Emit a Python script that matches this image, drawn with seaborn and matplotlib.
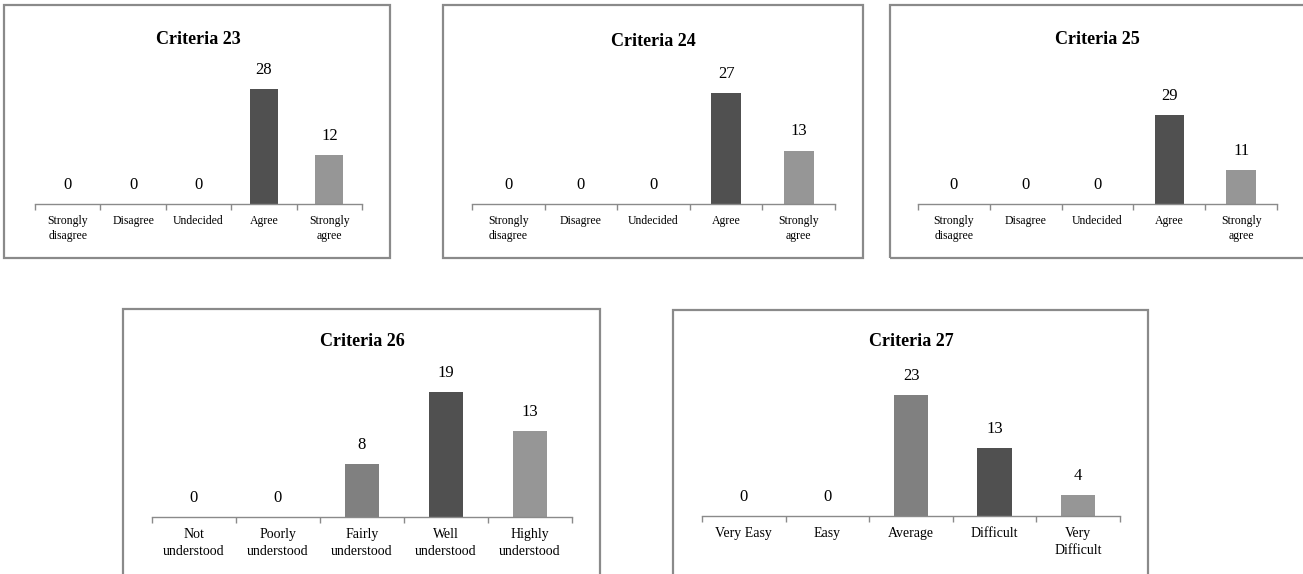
import matplotlib
matplotlib.use("Agg")
import matplotlib.pyplot as plt
import seaborn as sns
import pandas as pd
from matplotlib.patches import Rectangle
from matplotlib.ticker import FixedLocator

sns.set_theme(style="white")
plt.rcParams['font.family'] = ['Liberation Serif', 'DejaVu Serif']
plt.rcParams['text.color'] = 'black'
plt.rcParams['xtick.color'] = 'black'

# ---------------- data ----------------
agree_cats = ["Strongly\ndisagree", "Disagree", "Undecided", "Agree", "Strongly\nagree"]
c23_values = [0, 0, 0, 28, 12]
c24_values = [0, 0, 0, 27, 13]
c25_values = [0, 0, 0, 29, 11]
c26_cats = ["Not\nunderstood", "Poorly\nunderstood", "Fairly\nunderstood", "Well\nunderstood", "Highly\nunderstood"]
c26_values = [0, 0, 8, 19, 13]
c27_cats = ["Very Easy", "Easy", "Average", "Difficult", "Very\nDifficult"]
c27_values = [0, 0, 23, 13, 4]
titles = ["Criteria 23", "Criteria 24", "Criteria 25", "Criteria 26", "Criteria 27"]

# ---------------- layout ----------------
W, H = 1303, 574
fig = plt.figure(figsize=(W / 100, H / 100), dpi=100)

DARK, MED, LIGHT = "#505050", "#808080", "#969696"
agree_colors = [LIGHT, LIGHT, LIGHT, DARK, LIGHT]
c26_colors = [MED, MED, MED, DARK, LIGHT]
c27_colors = [MED, MED, MED, DARK, LIGHT]

panels = [
    dict(cats=agree_cats, vals=c23_values, cols=agree_colors, title=titles[0],
         box=(4, 5, 390, 258), ax=(35, 362, 60, 204), ymax=35.06, ty=39, tfs=8.5, ls=1.35, w=0.43),
    dict(cats=agree_cats, vals=c24_values, cols=agree_colors, title=titles[1],
         box=(443, 5, 863, 258), ax=(472, 835, 60, 204), ymax=35.04, ty=42, tfs=8.5, ls=1.35, w=0.41),
    dict(cats=agree_cats, vals=c25_values, cols=agree_colors, title=titles[2],
         box=(890, 5, 1320, 258), ax=(918, 1277, 60, 204), ymax=46.9, ty=39, tfs=8.5, ls=1.35, w=0.41),
    dict(cats=c26_cats, vals=c26_values, cols=c26_colors, title=titles[3],
         box=(123, 309, 600, 600), ax=(152, 572, 360, 517), ymax=23.86, ty=342, tfs=10, ls=1.35, w=0.41),
    dict(cats=c27_cats, vals=c27_values, cols=c27_colors, title=titles[4],
         box=(673, 310, 1148, 600), ax=(702, 1120, 360, 516), ymax=29.66, ty=342, tfs=10, ls=1.35, w=0.41),
]

for p in panels:
    bx0, by0, bx1, by1 = p["box"]
    fig.patches.append(Rectangle((bx0 / W, 1 - by1 / H), (bx1 - bx0) / W, (by1 - by0) / H,
                                 transform=fig.transFigure, fill=False,
                                 edgecolor="#8a8a8a", linewidth=1.6, zorder=0))
    ax0, ax1, top, base = p["ax"]
    ax = fig.add_axes([ax0 / W, 1 - base / H, (ax1 - ax0) / W, (base - top) / H])
    df = pd.DataFrame({"cat": p["cats"], "val": p["vals"]})
    sns.barplot(data=df, x="cat", y="val", hue="cat", palette=p["cols"], legend=False,
                width=p["w"], ax=ax, saturation=1, edgecolor="none", dodge=False)
    ax.set_xlim(-0.5, 4.5)
    ax.set_ylim(0, p["ymax"])
    ax.set_xlabel("")
    ax.set_ylabel("")
    ax.set_yticks([])
    for s in ["top", "right", "left"]:
        ax.spines[s].set_visible(False)
    ax.spines["bottom"].set_color("#8a8a8a")
    ax.spines["bottom"].set_linewidth(1.0)
    ax.tick_params(axis="x", which="major", length=0, pad=8, labelsize=p["tfs"], labelcolor="black")
    ax.xaxis.set_minor_locator(FixedLocator([-0.5, 0.5, 1.5, 2.5, 3.5, 4.5]))
    ax.tick_params(axis="x", which="minor", bottom=True, length=4, width=1.0, color="#8a8a8a", direction="out")
    for lbl in ax.get_xticklabels():
        lbl.set_linespacing(p["ls"])
    for bar in ax.patches:
        h = bar.get_height()
        if h != h:  # NaN
            continue
        ax.annotate(f"{int(round(h))}", (bar.get_x() + bar.get_width() / 2, h),
                    xytext=(0, 8), textcoords="offset points",
                    ha="center", va="bottom", fontsize=12, color="black")
    ax.patch.set_alpha(0)
    cx = ((ax0 + ax1) / 2) / W
    fig.text(cx, 1 - p["ty"] / H, p["title"], ha="center", va="center",
             fontsize=13, fontweight="bold", color="black")

fig.savefig("out.png", dpi=100, facecolor="white")
